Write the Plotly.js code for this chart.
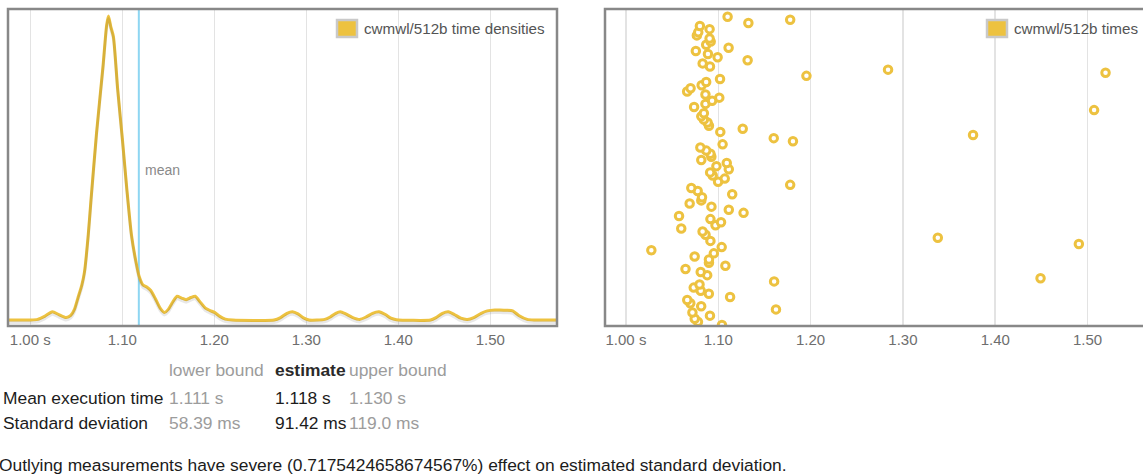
<!DOCTYPE html>
<html>
<head>
<meta charset="utf-8">
<script src="https://cdn.plot.ly/plotly-3.0.1.min.js"></script>
<style>
  html, body { margin: 0; padding: 0; background: #fff; overflow: hidden; }
  #chart { width: 1165px; height: 476px; }
</style>
</head>
<body>
<div id="chart"></div>
<script>
// ---------------- data ----------------
const benchName = "cwmwl/512b";

// kernel density estimate of the run times (x in seconds, relative density)
const densityX = [0.976, 1.000, 1.008, 1.016, 1.024, 1.031, 1.039, 1.044, 1.048, 1.052, 1.056, 1.059, 1.063, 1.066, 1.072, 1.079, 1.083, 1.085, 1.0875, 1.0904, 1.095, 1.100, 1.105, 1.110, 1.115, 1.1185, 1.1225, 1.127, 1.131, 1.136, 1.141, 1.1458, 1.150, 1.155, 1.1596, 1.1645, 1.1694, 1.1745, 1.1793, 1.185, 1.1904, 1.1955, 1.2003, 1.206, 1.212, 1.220, 1.265, 1.272, 1.279, 1.285, 1.291, 1.297, 1.303, 1.320, 1.326, 1.332, 1.337, 1.343, 1.350, 1.358, 1.365, 1.372, 1.379, 1.386, 1.392, 1.398, 1.435, 1.441, 1.448, 1.4545, 1.461, 1.468, 1.475, 1.482, 1.490, 1.4967, 1.505, 1.5105, 1.518, 1.5244, 1.531, 1.5402, 1.548, 1.5725];
const densityY = [0, 0, 0.002, 0.013, 0.027, 0.018, 0.008, 0.015, 0.035, 0.075, 0.115, 0.16, 0.28, 0.395, 0.615, 0.833, 0.97, 1.0, 0.965, 0.932, 0.76, 0.6, 0.43, 0.28, 0.19, 0.142, 0.115, 0.108, 0.097, 0.07, 0.04, 0.025, 0.035, 0.06, 0.078, 0.072, 0.067, 0.074, 0.078, 0.058, 0.039, 0.031, 0.025, 0.012, 0.003, 0, 0, 0.008, 0.022, 0.027, 0.02, 0.007, 0, 0.002, 0.010, 0.022, 0.027, 0.02, 0.009, 0.002, 0.01, 0.022, 0.027, 0.018, 0.006, 0.001, 0, 0.008, 0.022, 0.027, 0.018, 0.006, 0.002, 0.008, 0.022, 0.03, 0.033, 0.033, 0.032, 0.03, 0.015, 0.002, 0, 0];

// individual sample times (seconds), in iteration order 1..100
const sampleTimes = [1.104, 1.078, 1.0745, 1.091, 1.072, 1.1625, 1.0815, 1.0697, 1.0664, 1.1128,
  1.0898, 1.081, 1.0734, 1.0797, 1.1605, 1.4491, 1.088, 1.081, 1.0645, 1.1077,
  1.0899, 1.0899, 1.0744, 1.0952, 1.0275, 1.1037, 1.4906, 1.0915, 1.3378, 1.0862,
  1.083, 1.0599, 1.097, 1.103, 1.0915, 1.0575, 1.1274, 1.1114, 1.0926, 1.069,
  1.0816, 1.0824, 1.1151, 1.0777, 1.0708, 1.1779, 1.0998, 1.107, 1.094, 1.0912,
  1.1114, 1.098, 1.1092, 1.0816, 1.0925, 1.0915, 1.087, 1.0806, 1.1047, 1.1809,
  1.1601, 1.3760, 1.1022, 1.1265, 1.0899, 1.0884, 1.0844, 1.0816, 1.0844, 1.5071,
  1.0738, 1.0861, 1.0933, 1.1011, 1.0861, 1.0663, 1.0700, 1.0820, 1.0869, 1.1019,
  1.1955, 1.5195, 1.2839, 1.0910, 1.0831, 1.1318, 1.0993, 1.0888, 1.0757, 1.1112,
  1.0869, 1.0918, 1.0906, 1.0768, 1.0783, 1.0906, 1.0801, 1.1326, 1.1779, 1.1101];
const iterations = sampleTimes.map((t, i) => i + 1);

const meanEstimate = 1.118;

const tickValues = [1.00, 1.10, 1.20, 1.30, 1.40, 1.50];
const tickLabels = ["1.00 s", "1.10", "1.20", "1.30", "1.40", "1.50"];

const tableHeaders = ["lower bound", "estimate", "upper bound"];
const tableRowNames = ["Mean execution time", "Standard deviation"];
const lowerBounds = ["1.111 s", "58.39 ms"];
const estimates = ["1.118 s", "91.42 ms"];
const upperBounds = ["1.130 s", "119.0 ms"];
const outlierEffect = "0.7175424658674567%";

// ---------------- layout helpers ----------------
const W = 1165, H = 476;
const fx = p => p / W;
const fy = p => 1 - p / H;
const FONT = '"Liberation Sans", Arial, Helvetica, sans-serif';
const GOLD = '#edc240';

const domY = [fy(326), fy(9)];
const dom1 = [fx(8), fx(557)];
const dom2 = [fx(605), fx(1154)];

const yLo = -0.0197, yHi = 1.023;
const shadowShift = 2.5 / 304;

const traces = [
  { // soft shadow under the density curve
    x: densityX, y: densityY, type: 'scatter', mode: 'lines',
    xaxis: 'x', yaxis: 'y3', hoverinfo: 'skip', showlegend: false,
    line: { color: 'rgba(0,0,0,0.09)', width: 3, shape: 'spline', smoothing: 0.6 }
  },
  {
    x: densityX, y: densityY, type: 'scatter', mode: 'lines',
    name: benchName + ' time densities', xaxis: 'x', yaxis: 'y', showlegend: false,
    line: { color: GOLD, width: 3, shape: 'spline', smoothing: 0.6 }
  },
  {
    x: sampleTimes, y: iterations, type: 'scatter', mode: 'markers',
    name: benchName + ' times', xaxis: 'x2', yaxis: 'y2', showlegend: false,
    marker: { symbol: 'circle', size: 7.5, color: '#ffffff', line: { color: GOLD, width: 3 } }
  }
];

const xCommon = {
  tickvals: tickValues, ticktext: tickLabels, showgrid: true,
  gridcolor: '#e3e3e3', gridwidth: 1.5, zeroline: false, showline: false, ticks: '',
  ticklabelstandoff: 3,
  tickfont: { family: FONT, size: 15, color: '#6e6e6e' }, fixedrange: true
};

const annotations = [];
const shapes = [];

// plot frames
[dom1, dom2].forEach(d => {
  shapes.push({ type: 'rect', xref: 'paper', yref: 'paper', x0: d[0], x1: d[1], y0: domY[0], y1: domY[1],
    line: { color: '#888888', width: 2.5 }, layer: 'above' });
});

// mean line
shapes.push({ type: 'line', xref: 'x', yref: 'y domain', x0: meanEstimate, x1: meanEstimate, y0: 0, y1: 1,
  line: { color: '#8ed6f2', width: 2 }, layer: 'below' });
annotations.push({ xref: 'x', yref: 'y', x: meanEstimate, y: 0.493, xanchor: 'left', yanchor: 'middle',
  xshift: 4, text: 'mean', showarrow: false, font: { family: FONT, size: 14, color: '#8a8a8a' } });

// legends (swatch + label)
function legend(swX, label) {
  shapes.push({ type: 'rect', xref: 'paper', yref: 'paper', x0: fx(swX), x1: fx(swX + 20), y0: fy(37), y1: fy(20),
    fillcolor: GOLD, line: { color: '#c9c9c9', width: 2.5 }, layer: 'above' });
  annotations.push({ xref: 'paper', yref: 'paper', x: fx(swX + 25), y: fy(28.5), xanchor: 'left', yanchor: 'middle',
    text: label, showarrow: false, font: { family: FONT, size: 15.2, color: '#545454' } });
}
legend(337, benchName + ' time densities');
legend(987, benchName + ' times');

// summary table
function txt(x, y, s, color, bold) {
  annotations.push({ xref: 'paper', yref: 'paper', x: fx(x), y: fy(y), xanchor: 'left', yanchor: 'middle',
    text: bold ? '<b>' + s + '</b>' : s, showarrow: false,
    font: { family: FONT, size: 17.4, color: color } });
}
const colX = [167, 273, 347];
const GREY = '#9c9c9c', DARK = '#1c1c1c';
txt(colX[0], 370, tableHeaders[0], GREY, false);
txt(colX[1], 370, tableHeaders[1], '#2a2a2a', true);
txt(colX[2], 370, tableHeaders[2], GREY, false);
tableRowNames.forEach((name, i) => {
  const y = 398 + i * 25;
  txt(1, y, name, DARK, false);
  txt(colX[0], y, lowerBounds[i], GREY, false);
  txt(colX[1], y, estimates[i], DARK, false);
  txt(colX[2], y, upperBounds[i], GREY, false);
});
txt(-3, 465, 'Outlying measurements have severe (' + outlierEffect + ') effect on estimated standard deviation.', DARK, false);

const layout = {
  width: W, height: H,
  margin: { l: 0, r: 0, t: 0, b: 0 },
  paper_bgcolor: '#ffffff', plot_bgcolor: '#ffffff',
  showlegend: false,
  xaxis: Object.assign({}, xCommon, { domain: dom1, range: [0.9758, 1.5725], anchor: 'y' }),
  yaxis: { domain: domY, range: [yLo, yHi], visible: false, showgrid: false, zeroline: false, fixedrange: true },
  yaxis3: { overlaying: 'y', range: [yLo + shadowShift, yHi + shadowShift], visible: false, showgrid: false, zeroline: false, fixedrange: true },
  xaxis2: Object.assign({}, xCommon, { domain: dom2, range: [0.9773, 1.572], anchor: 'y2' }),
  yaxis2: { domain: domY, range: [0.67, 102.47], visible: false, showgrid: false, zeroline: false, fixedrange: true },
  shapes: shapes,
  annotations: annotations
};

Plotly.newPlot('chart', traces, layout, { displayModeBar: false, staticPlot: true });
</script>
</body>
</html>
